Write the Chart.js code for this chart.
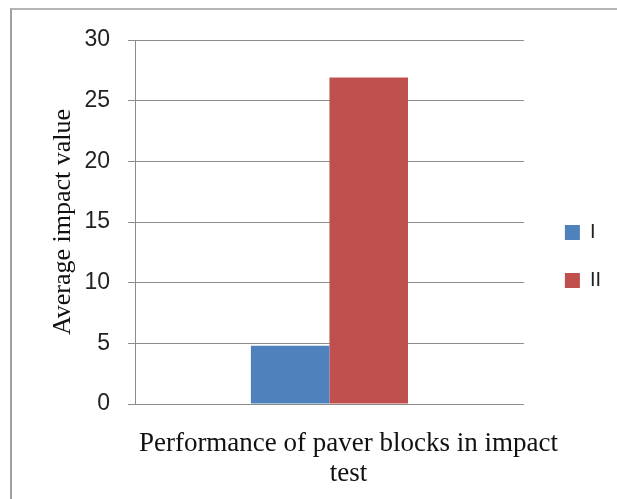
<!DOCTYPE html>
<html>
<head>
<meta charset="utf-8">
<script src="https://cdn.jsdelivr.net/npm/chart.js@4.4.1/dist/chart.umd.min.js"></script>
<style>
    html, body { margin: 0; padding: 0; background: #fff; overflow: hidden; }
    #frame {
        position: absolute; left: 10px; top: 8px; width: 700px; height: 600px;
        border-top: 2px solid #b4b4b4; border-left: 2px solid #a0a0a0;
    }
    #wrap { position: absolute; left: 0; top: 0; width: 617px; height: 499px; }
</style>
</head>
<body>
<div id="frame"></div>
<div id="wrap"><canvas id="barChart"></canvas></div>
<script>
// data
const categories = [['Performance of paver blocks in impact', 'test']];
const seriesNames = ['I', 'II'];
const seriesI = [4.8];
const seriesII = [26.9];
const yMin = 0, yMax = 30, yStep = 5;

// nudge the legend: a bit right of the plot and centred like the original
const legendShift = {
    id: 'legendShift',
    afterLayout: function (chart) {
        chart.legend.left += 13;
        chart.legend.right += 13;
        chart.legend.top -= 13;
        chart.legend.bottom -= 13;
    }
};

const ctx = document.getElementById('barChart').getContext('2d');
new Chart(ctx, {
    type: 'bar',
    data: {
        labels: categories,
        datasets: [{
            label: seriesNames[0],
            data: seriesI,
            backgroundColor: '#4F81BD',
            categoryPercentage: 0.404,
            barPercentage: 1
        }, {
            label: seriesNames[1],
            data: seriesII,
            backgroundColor: '#C0504D',
            categoryPercentage: 0.404,
            barPercentage: 1
        }]
    },
    options: {
        responsive: true,
        maintainAspectRatio: false,
        animation: false,
        layout: {
            padding: { top: 40, left: 48, right: 19, bottom: 0 }
        },
        plugins: {
            tooltip: { enabled: false },
            legend: {
                position: 'right',
                labels: {
                    boxWidth: 15,
                    boxHeight: 15,
                    padding: 28,
                    color: '#222',
                    font: { family: 'Liberation Sans', size: 20 }
                }
            }
        },
        scales: {
            x: {
                afterFit: function (scale) {
                    scale.height = 499 - 404;
                },
                grid: { display: false, drawTicks: false },
                border: { display: false },
                ticks: {
                    padding: 25,
                    labelOffset: 19,
                    color: '#111',
                    maxRotation: 0,
                    font: { family: 'Liberation Serif', size: 27, lineHeight: 1.11 }
                }
            },
            y: {
                min: yMin,
                max: yMax,
                afterFit: function (scale) {
                    scale.width = 135 - 48;
                },
                ticks: {
                    stepSize: yStep,
                    padding: 18,
                    color: '#222',
                    font: { family: 'Liberation Sans', size: 23 }
                },
                grid: { color: '#8c8c8c', lineWidth: 1, tickLength: 7 },
                border: { display: true, color: '#8c8c8c', width: 1 },
                title: {
                    display: true,
                    text: 'Average impact value',
                    color: '#111',
                    padding: { top: 0, bottom: 0 },
                    font: { family: 'Liberation Serif', size: 26, lineHeight: 1.2 }
                }
            }
        }
    },
    plugins: [legendShift]
});
</script>
</body>
</html>
